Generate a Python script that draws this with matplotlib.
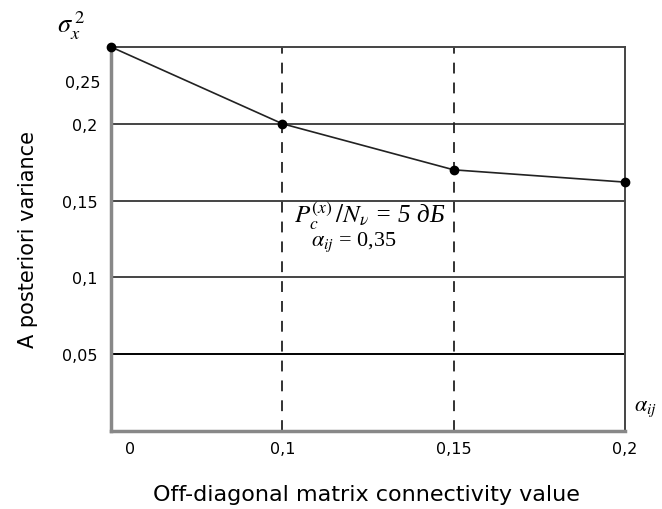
import matplotlib.pyplot as plt
import matplotlib.transforms as mtransforms

# dados
x_labels = ['0', '0,1', '0,15', '0,2']
variance = [0.25, 0.2, 0.17, 0.162]
y_grid = [0.05, 0.1, 0.15, 0.2]
y_labels = ['0,05', '0,1', '0,15', '0,2']

plt.rcParams['font.family'] = ['DejaVu Sans']
plt.rcParams['mathtext.fontset'] = 'stix'

fig = plt.figure(figsize=(6.62, 5.10), dpi=100)
ax = fig.add_axes([0.1677, 0.153, 0.7765, 0.753])

pos = list(range(len(x_labels)))
ax.set_xlim(0, len(x_labels) - 1)
ax.set_ylim(0, 0.25)

# linhas de grade horizontais
for i, yv in enumerate(y_grid):
    cor = 'black' if i == 0 else '#444444'
    ax.axhline(yv, color=cor, lw=1.4, zorder=1)

# linhas verticais tracejadas
for p in pos[1:-1]:
    ax.axvline(p, color='#222222', lw=1.3, ls=(0, (6, 5)), zorder=1)

ax.plot(pos, variance, color='#222222', lw=1.2, zorder=3)
ax.plot(pos, variance, 'o', color='black', ms=6, zorder=4, clip_on=False)

for s in ['left', 'bottom']:
    ax.spines[s].set_color('#888888')
    ax.spines[s].set_linewidth(2.5)
for s in ['top', 'right']:
    ax.spines[s].set_color('#444444')
    ax.spines[s].set_linewidth(1.4)

ax.set_yticks(y_grid, y_labels)
ax.set_xticks(pos, x_labels)
ax.tick_params(length=0, labelsize=11.5, pad=7)
ax.tick_params(axis='y', pad=10)
# o "0" fica deslocado para a direita
off = mtransforms.ScaledTranslation(19 / 100, 0, fig.dpi_scale_trans)
ax.get_xticklabels()[0].set_transform(ax.get_xticklabels()[0].get_transform() + off)
ax.text(-0.021, 0.227, '0,25', transform=ax.get_yaxis_transform(), ha='right', va='center', fontsize=11.5)

fig.text(0.554, 0.03, 'Off-diagonal matrix connectivity value', fontsize=16, ha='center', va='center')
fig.text(0.042, 0.53, 'A posteriori variance', fontsize=15, ha='center', va='center', rotation=90)

# rotulos em estilo matematico
ax.text(-0.105, 1.015, r'$\sigma_{x}^{\,2}$', transform=ax.transAxes, fontsize=19,
        ha='left', va='bottom')
ax.text(1.018, 0.06, r'$\alpha_{ij}$', transform=ax.transAxes, fontsize=16,
        ha='left', va='center')
ax.text(0.355, 0.565, r'$P_c^{(x)}\,/N_\nu$ = 5 дБ', transform=ax.transAxes, fontsize=18,
        family='Liberation Serif', style='italic', ha='left', va='center')
ax.text(0.39, 0.495, r'$\alpha_{ij}$ = 0,35', transform=ax.transAxes, fontsize=16,
        family='Liberation Serif', ha='left', va='center')

fig.savefig('out.png', dpi=100)
